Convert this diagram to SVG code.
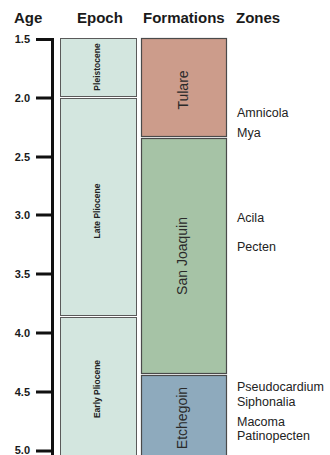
<svg xmlns="http://www.w3.org/2000/svg" width="330" height="455" viewBox="0 0 330 455">
<style>
.hdr{font-family:"Liberation Sans",Arial,sans-serif;font-weight:bold;font-size:15px;fill:#1a1a1a}
.tick{font-family:"Liberation Sans",Arial,sans-serif;font-weight:bold;font-size:11px;fill:#1a1a1a;text-anchor:end}
.ep{fill:#d3e6df;stroke:#5a5a5a;stroke-width:1}
.eplab{font-family:"Liberation Sans",Arial,sans-serif;font-weight:bold;font-size:8.5px;fill:#222;text-anchor:middle}
.fm{stroke:#4a4a4a;stroke-width:1.2}
.fmlab{font-family:"Liberation Sans",Arial,sans-serif;font-size:14px;fill:#2a2a2a;text-anchor:middle}
.zone{font-family:"Liberation Sans",Arial,sans-serif;font-size:12.5px;fill:#222}
.ax{stroke:#111;stroke-width:3;fill:none}
</style>
<rect width="330" height="455" fill="#fff"/>
<g id="headers">
<text class="hdr" x="14" y="23">Age</text>
<text class="hdr" x="77" y="23">Epoch</text>
<text class="hdr" x="143" y="23">Formations</text>
<text class="hdr" x="236" y="23">Zones</text>
</g>
<g id="axis">
<path class="ax" d="M36 39.5H52.5V455"/>
<path class="ax" d="M36 98H52M36 157H52M36 215H52M36 274H52M36 333H52M36 392H52M36 451H52"/>
<text class="tick" x="30" y="43">1.5</text>
<text class="tick" x="30" y="102">2.0</text>
<text class="tick" x="30" y="161">2.5</text>
<text class="tick" x="30" y="219">3.0</text>
<text class="tick" x="30" y="278">3.5</text>
<text class="tick" x="30" y="337">4.0</text>
<text class="tick" x="30" y="396">4.5</text>
<text class="tick" x="30" y="454">5.0</text>
</g>
<g id="pleistocene">
<rect class="ep" x="60.5" y="38.5" width="76" height="58"/>
<text class="eplab" transform="translate(99.5 67) rotate(-90)">Pleistocene</text>
</g>
<g id="late-pliocene">
<rect class="ep" x="60.5" y="98.5" width="76" height="217"/>
<text class="eplab" transform="translate(99.5 211) rotate(-90)">Late Pliocene</text>
</g>
<g id="early-pliocene">
<rect class="ep" x="60.5" y="317.5" width="76" height="150"/>
<text class="eplab" transform="translate(99.5 389) rotate(-90)">Early Pliocene</text>
</g>
<g id="tulare">
<rect class="fm" x="141.5" y="38.5" width="85" height="98" fill="#cc9c8b"/>
<text class="fmlab" transform="translate(188 90) rotate(-90)">Tulare</text>
</g>
<g id="san-joaquin">
<rect class="fm" x="141.5" y="138.5" width="85" height="235" fill="#a6c3a6"/>
<text class="fmlab" transform="translate(187 256) rotate(-90)">San Joaquin</text>
</g>
<g id="etchegoin">
<rect class="fm" x="141.5" y="375.5" width="85" height="90" fill="#8eaabd"/>
<text class="fmlab" transform="translate(187 418) rotate(-90)">Etchegoin</text>
</g>
<g id="zones">
<text class="zone" x="237" y="117">Amnicola</text>
<text class="zone" x="237" y="137">Mya</text>
<text class="zone" x="237" y="222">Acila</text>
<text class="zone" x="237" y="251">Pecten</text>
<text class="zone" x="237" y="391">Pseudocardium</text>
<text class="zone" x="237" y="406">Siphonalia</text>
<text class="zone" x="237" y="426">Macoma</text>
<text class="zone" x="237" y="440">Patinopecten</text>
</g>
</svg>
